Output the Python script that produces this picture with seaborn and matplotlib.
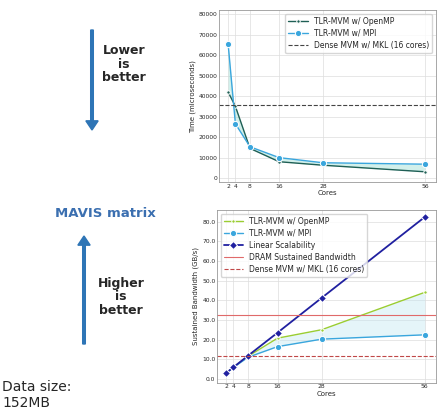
import numpy as np
import pandas as pd
import seaborn as sns
import matplotlib.pyplot as plt
from matplotlib.patches import FancyArrow
from matplotlib.ticker import FormatStrFormatter

# valores
cores = [2, 4, 8, 16, 28, 56]
tempo_openmp = [42000, 35000, 14500, 8000, 6300, 3100]
tempo_mpi = [65500, 26500, 15300, 10000, 7500, 6800]
tempo_dense = 35500

bw_openmp = [2.9, 5.9, 11.5, 20.7, 25.0, 44.0]
bw_mpi = [2.9, 5.8, 11.0, 16.4, 20.2, 22.4]
bw_linear = [2.9, 5.9, 11.8, 23.5, 41.2, 82.3]
bw_dram = 32.3
bw_dense = 11.6

x_ticks = [2, 4, 8, 16, 28, 56]

sns.set_style("whitegrid")
plt.rcParams['font.family'] = ['DejaVu Sans']

fig = plt.figure(figsize=(4.38, 4.17), dpi=100)

# grafico de cima: tempo
ax1 = fig.add_axes([0.50, 0.563, 0.495, 0.413])
df_t = pd.DataFrame({'Cores': cores, 'openmp': tempo_openmp, 'mpi': tempo_mpi})
ax1.fill_between(cores, tempo_openmp, tempo_mpi, color='#7fd6c8', alpha=0.35, lw=0)
sns.lineplot(data=df_t, x='Cores', y='openmp', ax=ax1, color='#1f5f55', lw=1.0,
             marker='o', markersize=2.5, label='TLR-MVM w/ OpenMP')
sns.lineplot(data=df_t, x='Cores', y='mpi', ax=ax1, color='#3aa6dd', lw=1.0,
             marker='o', markersize=4.5, label='TLR-MVM w/ MPI')
ax1.axhline(tempo_dense, color='#444444', ls='--', lw=0.8, label='Dense MVM w/ MKL (16 cores)')
ax1.set_xticks(x_ticks)
ax1.set_yticks(np.arange(0, 80001, 10000))
ax1.set_xlim(-0.5, 59)
ax1.set_ylim(-2000, 82000)
ax1.set_xlabel('Cores', fontsize=5, labelpad=1)
ax1.set_ylabel('Time (microseconds)', fontsize=5, labelpad=2)
ax1.tick_params(labelsize=4.3, pad=1, length=0)
ax1.legend(loc='upper right', fontsize=5.5, frameon=True, borderpad=0.4, handlelength=2.5,
           labelspacing=0.4)

# grafico de baixo: largura de banda
ax2 = fig.add_axes([0.495, 0.082, 0.50, 0.415])
df_b = pd.DataFrame({'Cores': cores, 'openmp': bw_openmp, 'mpi': bw_mpi, 'linear': bw_linear})
ax2.fill_between(cores, bw_openmp, bw_mpi, color='#bfe6f2', alpha=0.4, lw=0)
sns.lineplot(data=df_b, x='Cores', y='openmp', ax=ax2, color='#9acd32', lw=1.0,
             marker='o', markersize=2.5, label='TLR-MVM w/ OpenMP')
sns.lineplot(data=df_b, x='Cores', y='mpi', ax=ax2, color='#3aa6dd', lw=1.0,
             marker='o', markersize=4.5, label='TLR-MVM w/ MPI')
sns.lineplot(data=df_b, x='Cores', y='linear', ax=ax2, color='#2020a0', lw=1.3,
             marker='D', markersize=4, label='Linear Scalability')
ax2.axhline(bw_dram, color='#e06a6a', ls='-', lw=0.8, label='DRAM Sustained Bandwidth')
ax2.axhline(bw_dense, color='#c04848', ls='--', lw=0.8, label='Dense MVM w/ MKL (16 cores)')
ax2.set_xticks(x_ticks)
ax2.set_yticks(np.arange(0, 81, 10))
ax2.yaxis.set_major_formatter(FormatStrFormatter('%.1f'))
ax2.set_xlim(-0.5, 59)
ax2.set_ylim(-2, 86)
ax2.set_xlabel('Cores', fontsize=5, labelpad=1)
ax2.set_ylabel('Sustained Bandwidth (GB/s)', fontsize=5, labelpad=2)
ax2.tick_params(labelsize=4.3, pad=1, length=0)
ax2.legend(loc='upper left', fontsize=5.5, frameon=True, borderpad=0.4, handlelength=2.5,
           labelspacing=0.4)

for ax in (ax1, ax2):
    for s in ax.spines.values():
        s.set_color('#999999')
        s.set_linewidth(0.6)
    ax.grid(color='#dddddd', lw=0.5)

# textos e setas da esquerda
azul = '#2e75b6'
fig.add_artist(FancyArrow(92 / 438, 1 - 30 / 417, 0, -(100 / 417), width=0.006,
                          head_width=0.028, head_length=0.022, length_includes_head=True,
                          color=azul, transform=fig.transFigure))
fig.add_artist(FancyArrow(84 / 438, 1 - 344 / 417, 0, 108 / 417, width=0.006,
                          head_width=0.028, head_length=0.022, length_includes_head=True,
                          color=azul, transform=fig.transFigure))
fig.text(124 / 438, 1 - 64 / 417, 'Lower\nis\nbetter', ha='center', va='center',
         fontsize=9, fontweight='bold', linespacing=1.05)
fig.text(121 / 438, 1 - 297 / 417, 'Higher\nis\nbetter', ha='center', va='center',
         fontsize=9, fontweight='bold', linespacing=1.05)
fig.text(105 / 438, 1 - 213 / 417, 'MAVIS matrix', ha='center', va='center',
         fontsize=9.5, fontweight='bold', color='#3b6fb0')
fig.text(2 / 438, 1 - 395 / 417, 'Data size:\n152MB', ha='left', va='center',
         fontsize=10, linespacing=1.25)

fig.savefig('out.png', dpi=100)
